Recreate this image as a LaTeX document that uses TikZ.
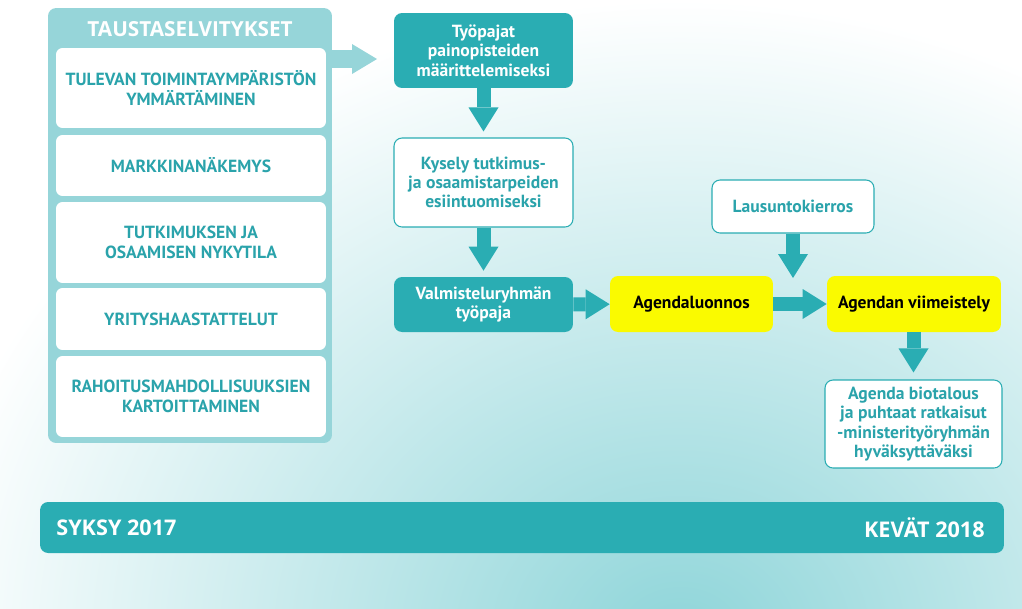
\documentclass[tikz,border=0pt]{standalone}
\usepackage{fontspec}
\setmainfont{PT Sans}
\newfontfamily\widefont{Open Sans}
\usetikzlibrary{arrows.meta}
\definecolor{tealdark}{HTML}{2AADB3}
\definecolor{teallight}{HTML}{96D5D9}
\definecolor{tealtext}{HTML}{2AA3AB}
\definecolor{agendayellow}{HTML}{FAFA00}
\definecolor{bgteal}{HTML}{8ED5D9}
\tikzset{
  box/.style={rounded corners=0.16cm, align=center, inner sep=0pt,
    font=\bfseries\fontsize{10}{11}\selectfont},
  darkbox/.style={box, fill=tealdark, text=white},
  whitebox/.style={box, fill=white, draw=tealdark, line width=0.6pt, text=tealtext},
  yellowbox/.style={box, fill=agendayellow, text=black},
  listbox/.style={box, fill=white, text=tealtext, rounded corners=0.13cm,
    minimum width=5.4cm},
  arr/.style={line width=0.28cm, draw=tealdark,
    -{Triangle[width=0.6cm,length=0.48cm,line width=0pt]}},
  bigarr/.style={line width=0.36cm, draw=teallight,
    -{Triangle[width=0.6cm,length=0.5cm,line width=0pt]}},
  bartext/.style={text=white, inner sep=0pt, font=\widefont\bfseries\fontsize{12.3}{14}\selectfont}
}
\begin{document}
\begin{tikzpicture}[x=0.02cm,y=-0.02cm]
\useasboundingbox (0,0) rectangle (1022,609);
\fill [white] (0,0) rectangle (1022,609);
\begin{scope}
\clip (0,0) rectangle (1022,609);
\shade [inner color=bgteal, outer color=white] (680,640) ellipse [x radius=760, y radius=640];
\end{scope}

\node [rounded corners=0.16cm, fill=teallight, minimum width=5.68cm, minimum height=8.7cm] (panel) at (190,225.5) {};
\node [text=white, font=\widefont\bfseries\fontsize{11.8}{13}\selectfont] (title) at (190,29) {TAUSTASELVITYKSET};
\node [listbox, minimum height=1.6cm] (b1) at (191,88) {TULEVAN TOIMINTAYMPÄRISTÖN\\YMMÄRTÄMINEN};
\node [listbox, minimum height=1.22cm] (b2) at (191,165.5) {MARKKINANÄKEMYS};
\node [listbox, minimum height=1.62cm] (b3) at (191,242.5) {TUTKIMUKSEN JA\\OSAAMISEN NYKYTILA};
\node [listbox, minimum height=1.24cm] (b4) at (191,319) {YRITYSHAASTATTELUT};
\node [listbox, minimum height=1.62cm] (b5) at (191,396.5) {RAHOITUSMAHDOLLISUUKSIEN\\KARTOITTAMINEN};

\node [darkbox, minimum width=3.58cm, minimum height=1.5cm] (tyopajat) at (483.5,50.5) {Työpajat\\painopisteiden\\määrittelemiseksi};
\node [whitebox, minimum width=3.58cm, minimum height=1.78cm] (kysely) at (483.5,182.5) {Kysely tutkimus-\\ja osaamistarpeiden\\esiintuomiseksi};
\node [darkbox, minimum width=3.58cm, minimum height=1.1cm] (valmistelu) at (483.5,304.5) {Valmisteluryhmän\\työpaja};
\node [yellowbox, minimum width=3.26cm, minimum height=1.12cm] (luonnos) at (691.5,304) {Agendaluonnos};
\node [yellowbox, minimum width=3.48cm, minimum height=1.12cm] (viimeistely) at (914,304) {Agendan viimeistely};
\node [whitebox, minimum width=3.24cm, minimum height=1.06cm] (lausunto) at (793,206.5) {Lausuntokierros};
\node [whitebox, minimum width=3.54cm, minimum height=1.76cm] (hyvaksynta) at (913.5,424) {Agenda biotalous\\ja puhtaat ratkaisut\\-ministerityöryhmän\\hyväksyttäväksi};

\node [rounded corners=0.16cm, fill=tealdark, minimum width=19.28cm, minimum height=1.02cm] (bar) at (522,527.5) {};
\node [bartext, anchor=west] (syksy) at (56,527.5) {SYKSY 2017};
\node [bartext, anchor=east] (kevat) at (985,527.5) {KEVÄT 2018};

\coordinate (tip) at (377,59);
\coordinate (merge) at (793,278);
\draw [bigarr] (panel.east |- tip) -- (tip);
\draw [arr, shorten >=0.12cm] (tyopajat) -- (kysely);
\draw [arr, shorten >=0.12cm] (kysely) -- (valmistelu);
\draw [arr] (valmistelu) -- (luonnos);
\draw [arr] (luonnos) -- (viimeistely);
\draw [arr] (lausunto) -- (merge);
\draw [arr, shorten >=0.14cm] (viimeistely.south -| hyvaksynta) -- (hyvaksynta);
\end{tikzpicture}
\end{document}
